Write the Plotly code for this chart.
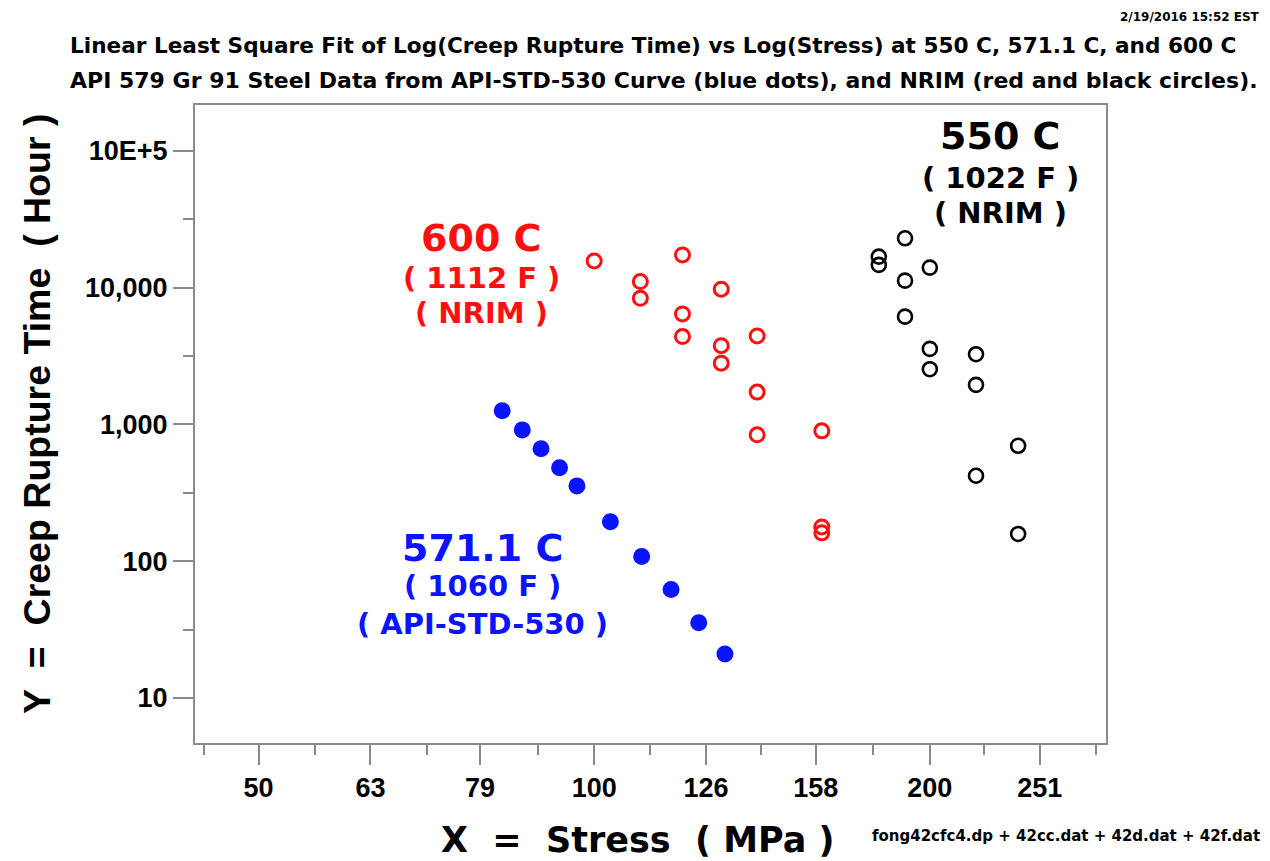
import plotly.graph_objects as go

# ---- data -------------------------------------------------------------
# 571.1 C, API-STD-530 curve points (stress in MPa, rupture time in hours)
api_stress = [82.7, 86.2, 89.6, 93.1, 96.5, 103.4, 110.3, 117.2, 124.1, 131.0]
api_hours = [1255, 911, 662, 481, 355, 194, 108, 62, 35.5, 21.0]

# 600 C, NRIM data
nrim600_stress = [100, 110, 110, 120, 120, 120, 130, 130, 130, 140, 140, 140, 160, 160, 160]
nrim600_hours = [15640, 11050, 8350, 17300, 6410, 4380, 9720, 3760, 2800,
                 4430, 1720, 838, 896, 178, 161]

# 550 C, NRIM data
nrim550_stress = [180, 180, 190, 190, 190, 200, 200, 200, 220, 220, 220, 240, 240]
nrim550_hours = [16810, 14630, 22910, 11230, 6130, 13980, 3560, 2530,
                 3256, 1943, 421, 697, 158]

x_ticks = [50, 63, 79, 100, 126, 158, 200, 251]
x_tick_labels = ["50", "63", "79", "100", "126", "158", "200", "251"]
y_ticks = [10, 100, 1000, 10000, 100000]
y_tick_labels = ["10", "100", "1,000", "10,000", "10E+5"]

# ---- layout geometry ---------------------------------------------------
W, H = 1270, 861
L, R, T, B = 195, 164, 105, 118
PW, PH = W - L - R, H - T - B
FONT = "Liberation Sans, Arial, Helvetica, sans-serif"
WIDE = "DejaVu Sans, Verdana, sans-serif"
GRAY = "#8a8a8a"
RED = "#ff1010"
BLUE = "#0a14ff"


def px(x):
    return (x - L) / PW


def py(y):
    return (H - B - y) / PH


fig = go.Figure()

fig.add_trace(go.Scatter(
    x=api_stress, y=api_hours, mode="markers",
    marker=dict(symbol="circle", size=17, color=BLUE, line=dict(width=0)),
    name="571.1 C"))
fig.add_trace(go.Scatter(
    x=nrim600_stress, y=nrim600_hours, mode="markers",
    marker=dict(symbol="circle-open", size=14, color=RED, line=dict(width=3, color=RED)),
    name="600 C"))
fig.add_trace(go.Scatter(
    x=nrim550_stress, y=nrim550_hours, mode="markers",
    marker=dict(symbol="circle-open", size=14, color="black", line=dict(width=2.6, color="black")),
    name="550 C"))

x_minor = [10 ** (1.65 + 0.1 * i) for i in range(9)]
y_minor = [10 ** (1.5 + i) for i in range(4)]

axis_common = dict(
    showline=True, linecolor=GRAY, linewidth=2, mirror=True,
    showgrid=False, zeroline=False,
    ticks="outside", ticklen=20, tickwidth=2, tickcolor=GRAY,
    tickfont=dict(family=FONT, size=27, color="black", weight="bold"),
)

fig.update_xaxes(
    type="log", range=[1.642, 2.459],
    tickmode="array", tickvals=x_ticks, ticktext=x_tick_labels,
    minor=dict(tickmode="array", tickvals=x_minor, ticks="outside",
               ticklen=10, tickwidth=2, tickcolor=GRAY, showgrid=False),
    **axis_common)
fig.update_yaxes(
    type="log", range=[0.671, 5.334],
    tickmode="array", tickvals=y_ticks, ticktext=y_tick_labels,
    minor=dict(tickmode="array", tickvals=y_minor, ticks="outside",
               ticklen=10, tickwidth=2, tickcolor=GRAY, showgrid=False),
    **axis_common)

NB = "\u00a0"
annotations = []


def label(text, x, y, size, color, xanchor="center", yanchor="middle", family=WIDE):
    annotations.append(dict(
        text=text, x=px(x), y=py(y), xref="paper", yref="paper",
        xanchor=xanchor, yanchor=yanchor, showarrow=False,
        font=dict(family=family, size=size, color=color, weight="bold")))


# titles and notes around the frame
label("2/19/2016 15:52 EST", 1262, 17, 12, "black", xanchor="right")
label("Linear Least Square Fit of Log(Creep Rupture Time) vs Log(Stress) at 550 C, 571.1 C, and 600 C",
      68, 46, 21.6, "black", xanchor="left")
label("API 579 Gr 91 Steel Data from API-STD-530 Curve (blue dots), and NRIM (red and black circles).",
      68, 80, 22, "black", xanchor="left")
label(f"X{NB}{NB}={NB}{NB}Stress{NB}{NB}({NB}MPa{NB})", 638, 840, 35, "black")
label("fong42cfc4.dp + 42cc.dat + 42d.dat + 42f.dat", 1262, 836, 15, "black", xanchor="right")

annotations.append(dict(
    text=f"Y{NB}{NB}={NB}{NB}Creep{NB}Rupture{NB}Time{NB}{NB}({NB}Hour{NB})",
    x=px(37), y=py(414), xref="paper", yref="paper", textangle=-90,
    xanchor="center", yanchor="middle", showarrow=False,
    font=dict(family=FONT, size=37.5, color="black", weight="bold")))

# series labels inside the plot
label("550 C", 1000, 136, 38, "black")
label(f"({NB}1022{NB}F{NB})", 1000, 178, 29, "black")
label(f"({NB}NRIM{NB})", 1000, 213, 29, "black")

label("600 C", 481, 238, 38, RED)
label(f"({NB}1112{NB}F{NB})", 481, 278, 29, RED)
label(f"({NB}NRIM{NB})", 481, 313, 29, RED)

label("571.1 C", 482, 548, 38, BLUE)
label(f"({NB}1060{NB}F{NB})", 482, 586, 29, BLUE)
label(f"({NB}API-STD-530{NB})", 482, 624, 29, BLUE)

fig.update_layout(
    width=W, height=H,
    margin=dict(l=L, r=R, t=T, b=B, pad=0),
    paper_bgcolor="white", plot_bgcolor="white",
    showlegend=False,
    annotations=annotations,
    font=dict(family=FONT, color="black"),
)

fig.write_html("out.html")
